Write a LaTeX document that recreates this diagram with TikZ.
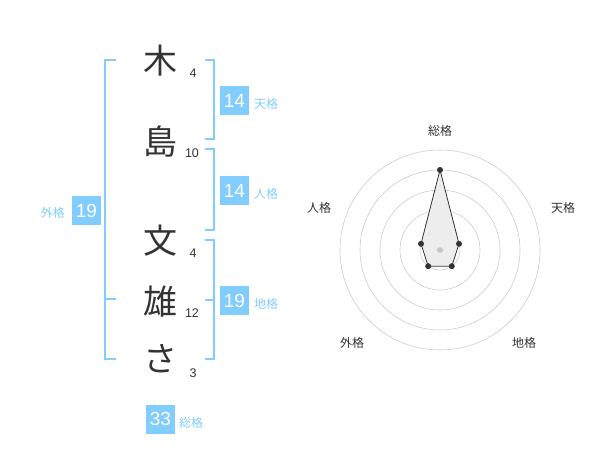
\documentclass[tikz,border=0pt]{standalone}
\usepackage{fontspec}
\setmainfont{Liberation Sans}
\newfontfamily\jp{Noto Sans CJK JP}
\definecolor{kaku}{HTML}{82CDFF}
\definecolor{ink}{HTML}{333333}
\begin{document}
\begin{tikzpicture}[x=1pt,y=-1pt,inner sep=0pt,minimum size=0mm,
  kanji/.style={font=\jp\fontsize{34}{34}\selectfont,text=ink},
  strokes/.style={font=\fontsize{12.5}{12.5}\selectfont,text=ink},
  numbox/.style={fill=kaku,text=white,minimum size=29pt,font=\fontsize{19}{19}\selectfont},
  kakulabel/.style={font=\jp\fontsize{12}{12}\selectfont,text=kaku},
  bracket/.style={draw=kaku,line width=2pt},
  ring/.style={draw=black!20,line width=0.6pt},
  axislabel/.style={font=\jp\fontsize{12}{12}\selectfont,text=ink}]

\useasboundingbox (0,0) rectangle (600,470);

% name
\node[kanji] (c1) at (160,61) {木};
\node[kanji] (c2) at (160,142) {島};
\node[kanji] (c3) at (160,241) {文};
\node[kanji] (c4) at (160,302) {雄};
\node[kanji] (c5) at (160,359) {さ};

\node[strokes] (s1) at (193,73) {4};
\node[strokes] (s2) at (192,153) {10};
\node[strokes] (s3) at (193,253) {4};
\node[strokes] (s4) at (192,313) {12};
\node[strokes] (s5) at (193,373) {3};

% brackets
\draw[bracket] (116,60) -- (105,60) -- (105,359) -- (116,359);
\draw[bracket] (105,299) -- (116,299);

\draw[bracket] (205,60) -- (214,60) -- (214,139) -- (205,139);
\draw[bracket] (205,149) -- (214,149) -- (214,230) -- (205,230);
\draw[bracket] (205,240) -- (214,240) -- (214,359) -- (205,359);
\draw[bracket] (205,300) -- (214,300);

% scores
\node[numbox] (ten) at (234.5,100.5) {14};
\node[kakulabel,anchor=west] (tenl) at (254,104) {天格};
\node[numbox] (jin) at (234.5,190.5) {14};
\node[kakulabel,anchor=west] (jinl) at (254,194) {人格};
\node[numbox] (chi) at (234.5,300.5) {19};
\node[kakulabel,anchor=west] (chil) at (254,304) {地格};
\node[numbox] (gai) at (86.5,210.5) {19};
\node[kakulabel,anchor=east] (gail) at (65,213) {外格};
\node[numbox] (sou) at (160.5,419) {33};
\node[kakulabel,anchor=west] (soul) at (179,423) {総格};

% radar
\draw[ring] (440,250) circle (20);
\draw[ring] (440,250) circle (40);
\draw[ring] (440,250) circle (60);
\draw[ring] (440,250) circle (80);
\draw[ring] (440,250) circle (100);

\coordinate (psou) at (440,170);
\coordinate (pten) at (459,243.8);
\coordinate (pchi) at (451.8,266.2);
\coordinate (pgai) at (428.2,266.2);
\coordinate (pjin) at (421,243.8);

\draw[fill=black!7,draw=ink,line width=0.8pt] (psou) -- (pten) -- (pchi) -- (pgai) -- (pjin) -- cycle;
\fill[black!22] (440,250) circle (3);
\fill[ink] (psou) circle (3);
\fill[ink] (pten) circle (3);
\fill[ink] (pchi) circle (3);
\fill[ink] (pgai) circle (3);
\fill[ink] (pjin) circle (3);

\node[axislabel] (asou) at (440,131) {総格};
\node[axislabel] (aten) at (563,208) {天格};
\node[axislabel] (achi) at (524,343) {地格};
\node[axislabel] (agai) at (352,343) {外格};
\node[axislabel] (ajin) at (319,208) {人格};

\end{tikzpicture}
\end{document}
